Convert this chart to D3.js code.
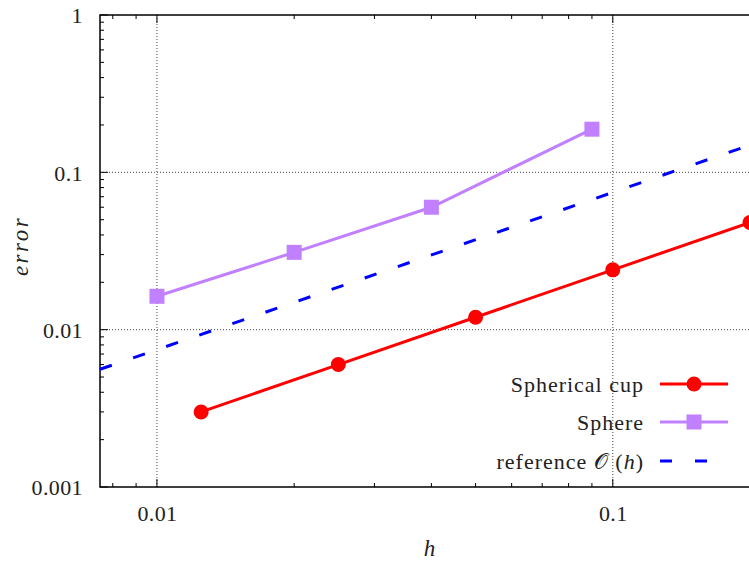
<!DOCTYPE html>
<html>
<head>
<meta charset="utf-8">
<script src="https://cdn.jsdelivr.net/npm/d3@7"></script>
</head>
<body style="margin:0;background:#fff">
<script>
// data
let cupH=[0.0125,0.025,0.05,0.1,0.2];
let cupErr=[0.003,0.006,0.012,0.024,0.048];
let sphH=[0.01,0.02,0.04,0.09];
let sphErr=[0.0163,0.031,0.06,0.188];
let refH=[0.0075,0.2];
let refErr=[0.0056,0.149];
let xTicks=[0.01,0.1];
let yTicks=[0.001,0.01,0.1,1];
let legendNames=["Spherical cup","Sphere","reference"];

const FONT="'Liberation Serif','Times New Roman',serif";
const W=749,H=562;
let margin={top:15,right:0,bottom:75,left:100},
    width=650,
    height=H-margin.top-margin.bottom;

let svg=d3.select("body").append("svg")
    .attr("width",W).attr("height",H)
  .append("g")
    .attr("transform","translate("+margin.left+","+margin.top+")");

let x=d3.scaleLog().domain([0.0075,0.2]).range([0,width]);
let y=d3.scaleLog().domain([0.001,1]).range([height,0]);

svg.append("defs").append("clipPath").attr("id","clip")
  .append("rect").attr("x",-10).attr("y",-10).attr("width",width+10).attr("height",height+20);

// grid
svg.selectAll(".gx").data(xTicks).enter().append("line")
  .attr("x1",d=>x(d)).attr("x2",d=>x(d)).attr("y1",0).attr("y2",height)
  .attr("stroke","#444").attr("stroke-width",1).attr("stroke-dasharray","1,2");
svg.selectAll(".gy").data([0.01,0.1]).enter().append("line")
  .attr("y1",d=>y(d)).attr("y2",d=>y(d)).attr("x1",0).attr("x2",width)
  .attr("stroke","#444").attr("stroke-width",1).attr("stroke-dasharray","1,2");

// minor tick values
let xMinor=[],yMinor=[];
for(let e=-3;e<=0;e++){for(let k=2;k<10;k++){let v=k*Math.pow(10,e);if(v>0.0075&&v<0.2)xMinor.push(v);if(v>0.001&&v<1)yMinor.push(v);}}

function ticks(g,vals,len,horiz){
  vals.forEach(v=>{
    if(horiz){
      g.append("line").attr("x1",x(v)).attr("x2",x(v)).attr("y1",height).attr("y2",height-len).attr("stroke","#000").attr("stroke-width",1);
      g.append("line").attr("x1",x(v)).attr("x2",x(v)).attr("y1",0).attr("y2",len).attr("stroke","#000").attr("stroke-width",1);
    }else{
      g.append("line").attr("y1",y(v)).attr("y2",y(v)).attr("x1",0).attr("x2",len).attr("stroke","#000").attr("stroke-width",1);
    }
  });
}
let tg=svg.append("g");
ticks(tg,xMinor,4,true);
ticks(tg,xTicks,8,true);
ticks(tg,yMinor,4,false);
ticks(tg,yTicks,8,false);

// axes via d3
let xAxis=svg.append("g").attr("transform","translate(0,"+height+")")
  .call(d3.axisBottom(x).tickValues(xTicks).tickSize(0).tickPadding(18).tickFormat(d3.format("~g")));
let yAxis=svg.append("g")
  .call(d3.axisLeft(y).tickValues(yTicks).tickSize(0).tickPadding(17).tickFormat(d3.format("~g")));
[xAxis,yAxis].forEach(a=>{
  a.attr("font-family",null).attr("font-size",null);
  a.select(".domain").remove();
  a.selectAll("text").style("font-family",FONT).style("font-size","22px").attr("fill","#222").style("letter-spacing","0.4px");
});
yAxis.selectAll("text").attr("dy","0.35em");
xAxis.selectAll("text").attr("dy","0.71em");

// border
svg.append("path").attr("d","M"+width+",0H0V"+height+"H"+width)
  .attr("fill","none").attr("stroke","#000").attr("stroke-width",1.5);

let line=d3.line().x(d=>x(d[0])).y(d=>y(d[1]));
let plot=svg.append("g").attr("clip-path","url(#clip)");

// reference O(h)
plot.append("path").datum(d3.zip(refH,refErr)).attr("d",line)
  .attr("fill","none").attr("stroke","#0000ff").attr("stroke-width",3).attr("stroke-dasharray","12.5,22.5");

// sphere
plot.append("path").datum(d3.zip(sphH,sphErr)).attr("d",line)
  .attr("fill","none").attr("stroke","#c080ff").attr("stroke-width",3);
plot.selectAll(".sq").data(d3.zip(sphH,sphErr)).enter().append("rect")
  .attr("x",d=>x(d[0])-7.5).attr("y",d=>y(d[1])-7.5).attr("width",15).attr("height",15)
  .attr("fill","#c080ff");

// spherical cup
plot.append("path").datum(d3.zip(cupH,cupErr)).attr("d",line)
  .attr("fill","none").attr("stroke","#ff0000").attr("stroke-width",3);
plot.selectAll(".ci").data(d3.zip(cupH,cupErr)).enter().append("circle")
  .attr("cx",d=>x(d[0])).attr("cy",d=>y(d[1])).attr("r",7.5)
  .attr("fill","#ff0000");

// legend
let lg=svg.append("g").attr("transform","translate(544,369)");
let rowY=[0,38,77];
legendNames.forEach((n,i)=>{
  let t=lg.append("text").attr("x",0).attr("y",rowY[i]).attr("dy","0.35em")
    .style("font-family",FONT).style("font-size","22px").style("letter-spacing","1px")
    .attr("fill","#222").attr("text-anchor","end");
  t.text(n);
  if(i==2){
    t.append("tspan").text(" ");
    t.append("tspan").text("𝒪");
    t.append("tspan").text(" (");
    t.append("tspan").style("font-style","italic").text("h");
    t.append("tspan").text(")");
  }
});
lg.append("line").attr("x1",16).attr("x2",84).attr("y1",rowY[0]).attr("y2",rowY[0]).attr("stroke","#ff0000").attr("stroke-width",3);
lg.append("circle").attr("cx",50).attr("cy",rowY[0]).attr("r",7.5).attr("fill","#ff0000");
lg.append("line").attr("x1",16).attr("x2",84).attr("y1",rowY[1]).attr("y2",rowY[1]).attr("stroke","#c080ff").attr("stroke-width",3);
lg.append("rect").attr("x",42.5).attr("y",rowY[1]-7.5).attr("width",15).attr("height",15).attr("fill","#c080ff");
lg.append("line").attr("x1",16).attr("x2",84).attr("y1",rowY[2]).attr("y2",rowY[2]).attr("stroke","#0000ff").attr("stroke-width",3).attr("stroke-dasharray","12,23");

// axis titles
svg.append("text").attr("transform","translate(-80,"+(height/2-5)+") rotate(-90)")
  .style("font-family",FONT).style("font-size","23px").style("font-style","italic").style("letter-spacing","2.5px")
  .attr("fill","#222").attr("text-anchor","middle").attr("dy","0.35em").text("error");
svg.append("text").attr("x",x(0.04)-2).attr("y",height+61)
  .style("font-family",FONT).style("font-size","23px").style("font-style","italic")
  .attr("fill","#222").attr("text-anchor","middle").attr("dy","0.35em").text("h");
</script>
</body>
</html>
